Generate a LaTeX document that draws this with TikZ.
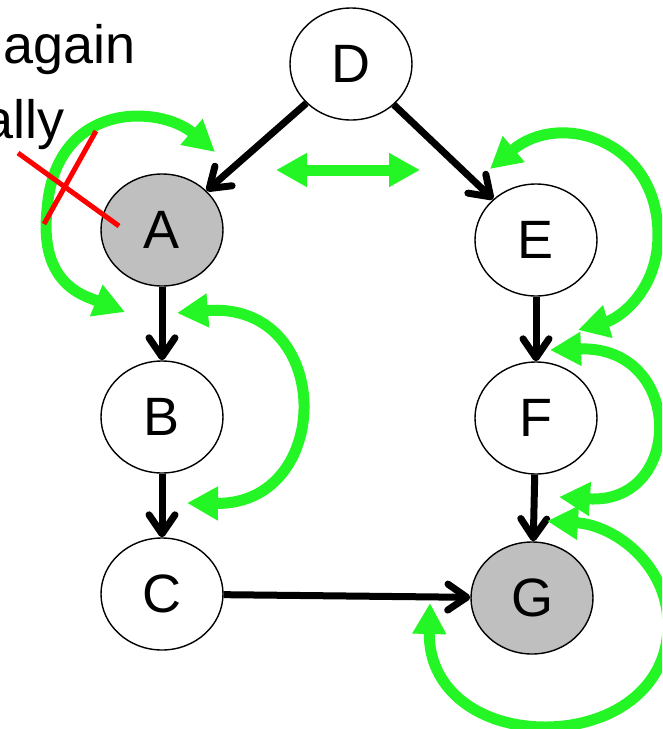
\documentclass[tikz,border=0pt]{standalone}
\usepackage{fontspec}
\setmainfont{Liberation Sans}
\usetikzlibrary{shapes.geometric,arrows.meta}
\definecolor{loopgreen}{RGB}{36,245,36}
\definecolor{nodegray}{RGB}{191,191,191}

\begin{document}
\begin{tikzpicture}[x=1pt,y=-1pt,
  state/.style={ellipse,draw=black,line width=1.4pt,fill=white,
    minimum width=122pt,minimum height=112pt,inner sep=0pt,
    font=\fontsize{54}{60}\selectfont},
  observed/.style={state,fill=nodegray},
  edge/.style={line width=7pt,-{Straight Barb[length=19pt,width=26pt,round]}},
  flow/.style={loopgreen,line width=11pt,
    {Triangle[length=31pt,width=32pt]}-{Triangle[length=31pt,width=32pt]}},
  cross/.style={red,line width=5pt},
  caption/.style={font=\fontsize{54}{60}\selectfont,inner sep=0pt}]

\useasboundingbox (0,0) rectangle (662,729);
\clip (0,0) rectangle (662,729);

% text fragments at the upper left
\node[caption,anchor=base west] (again) at (3,63) {again};
\node[caption,anchor=base east] (ally) at (65,138) {ally};

% the graph
\node[state]    (D) at (351,64)  {D};
\node[observed] (A) at (162,230) {A};
\node[state]    (E) at (536,240) {E};
\node[state]    (B) at (162,417) {B};
\node[state]    (F) at (536,418) {F};
\node[state]    (C) at (162,594) {C};
\node[observed] (G) at (532,598) {G};

\draw[edge] (D) -- (A);
\draw[edge] (D) -- (E);
\draw[edge] (A) -- (B);
\draw[edge] (B) -- (C);
\draw[edge] (E) -- (F);
\draw[edge] (F) -- (G);
\draw[edge] (C) -- (G);

% ends of the green flow arrows
\coordinate (a1) at (215,152);
\coordinate (a2) at (125,312);
\coordinate (b1) at (177,313);
\coordinate (b2) at (187,503);
\coordinate (h1) at (276,170);
\coordinate (h2) at (420,170);
\coordinate (e1) at (490,169);
\coordinate (e2) at (578,330);
\coordinate (f1) at (550,350);
\coordinate (f2) at (559,497);
\coordinate (g1) at (547,521);
\coordinate (g2) at (430,603);

\draw[flow] (a1) .. controls (160,105) and (55,100) .. (47,210)
                 .. controls (39,285) and (85,296) .. (a2);
\draw[flow] (b1) .. controls (335,300) and (335,505) .. (b2);
\draw[flow] (h1) -- (h2);
\draw[flow] (e1) .. controls (560,110) and (658,140) .. (658,235)
                 .. controls (658,290) and (620,318) .. (e2);
\draw[flow] (f1) .. controls (685,345) and (685,505) .. (f2);
\draw[flow] (g1) .. controls (615,525) and (668,565) .. (668,625)
                 .. controls (668,690) and (610,727) .. (545,727)
                 .. controls (480,727) and (428,690) .. (g2);

% red cross over the left loop
\coordinate (x1) at (18,153);
\coordinate (x2) at (119,226);
\coordinate (x3) at (96,131);
\coordinate (x4) at (44,224);
\draw[cross] (x1) -- (x2);
\draw[cross] (x3) -- (x4);
\end{tikzpicture}
\end{document}
